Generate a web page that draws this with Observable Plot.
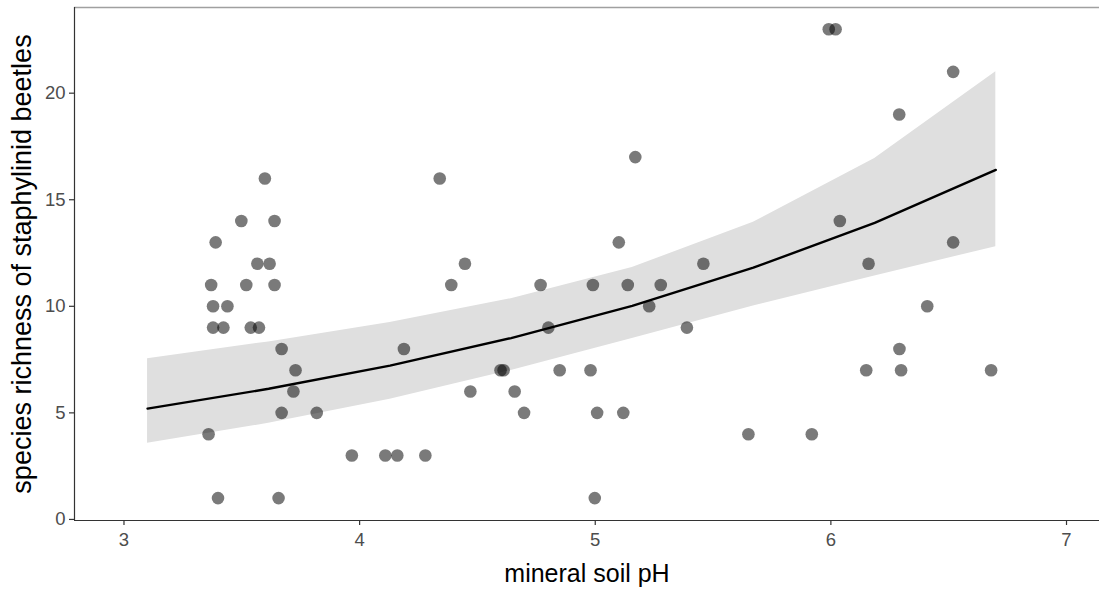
<!DOCTYPE html>
<html>
<head>
<meta charset="utf-8">
<script src="https://cdn.jsdelivr.net/npm/d3@7"></script>
<script src="https://cdn.jsdelivr.net/npm/@observablehq/plot@0.6"></script>
<style>
  html, body { margin: 0; padding: 0; background: white; }
</style>
</head>
<body>
<div id="chart"></div>
<script>
// Observed points: mineral soil pH vs species richness
const phX = [3.359, 3.370, 3.378, 3.378, 3.389, 3.399, 3.422, 3.439, 3.498, 3.519,
             3.538, 3.566, 3.573, 3.598, 3.618, 3.639, 3.639, 3.669, 3.656, 3.669,
             3.719, 3.728, 3.818, 3.967, 4.109, 4.160, 4.188, 4.279, 4.340, 4.389,
             4.447, 4.470, 4.598, 4.611, 4.658, 4.698, 4.768, 4.801, 4.849, 4.980,
             4.990, 4.998, 5.008, 5.100, 5.119, 5.138, 5.170, 5.229, 5.278, 5.389,
             5.459, 5.650, 5.919, 5.991, 6.020, 6.038, 6.150, 6.160, 6.291, 6.290,
             6.298, 6.409, 6.519, 6.519, 6.680];
const richness = [4, 11, 10, 9, 13, 1, 9, 10, 14, 11,
                  9, 12, 9, 16, 12, 14, 11, 8, 1, 5,
                  6, 7, 5, 3, 3, 3, 8, 3, 16, 11,
                  12, 6, 7, 7, 6, 5, 11, 9, 7, 7,
                  11, 1, 5, 13, 5, 11, 17, 10, 11, 9,
                  12, 4, 4, 23, 23, 14, 7, 12, 8, 19,
                  7, 10, 21, 13, 7];

// Fitted curve and confidence band
const gridX  = [3.1, 3.614, 4.129, 4.643, 5.157, 5.671, 6.186, 6.7];
const fitY   = [5.2, 6.13, 7.22, 8.51, 10.02, 11.81, 13.91, 16.4];
const lowerY = [3.58, 4.51, 5.64, 6.99, 8.49, 10.01, 11.42, 12.8];
const upperY = [7.54, 8.33, 9.24, 10.36, 11.82, 13.94, 16.94, 21.0];

const xTicks = [3, 4, 5, 6, 7];
const yTicks = [0, 5, 10, 15, 20];
const xTitle = "mineral soil pH";
const yTitle = "species richness of staphylinid beetles";

const band = gridX.map((x, i) => ({x, fit: fitY[i], lo: lowerY[i], hi: upperY[i]}));
const pts = phX.map((x, i) => ({x, y: richness[i]}));

const xDomain = [2.79, 7.14];
const yDomain = [-0.05, 24.02];

const chart = Plot.plot({
  width: 1100,
  height: 592,
  marginLeft: 74,
  marginRight: 1,
  marginTop: 7,
  marginBottom: 72,
  style: {fontFamily: "'Liberation Sans', Arial, sans-serif", background: "white"},
  x: {domain: xDomain},
  y: {domain: yDomain},
  marks: [
    Plot.areaY(band, {x: "x", y1: "lo", y2: "hi", fill: "#dfdfdf"}),
    Plot.dot(pts, {x: "x", y: "y", r: 6.3, fill: "black", fillOpacity: 0.52, stroke: "none"}),
    Plot.line(band, {x: "x", y: "fit", stroke: "black", strokeWidth: 2.4}),
    Plot.ruleY([yDomain[1]], {stroke: "#a0a0a0", strokeWidth: 1.5}),
    Plot.ruleX([xDomain[0]], {stroke: "#333", strokeWidth: 1.2}),
    Plot.ruleY([yDomain[0]], {stroke: "#333", strokeWidth: 1.2}),
    Plot.axisX({ticks: xTicks, tickSize: 5, tickPadding: 7, fontSize: 18.5, label: null,
                stroke: "#333", strokeWidth: 1.2, fill: "#4d4d4d", tickFormat: d => String(d)}),
    Plot.axisY({ticks: yTicks, tickSize: 5, tickPadding: 4, fontSize: 18.5, label: null,
                stroke: "#333", strokeWidth: 1.2, fill: "#4d4d4d", tickFormat: d => String(d)}),
    Plot.text([xTitle], {frameAnchor: "bottom", dy: 53, fontSize: 25, fill: "black",
                         textAnchor: "middle", lineAnchor: "middle"}),
    Plot.text([yTitle], {frameAnchor: "left", dx: -52, rotate: -90, fontSize: 27, fill: "black",
                         textAnchor: "middle", lineAnchor: "middle"})
  ]
});
document.getElementById("chart").appendChild(chart);
</script>
</body>
</html>
